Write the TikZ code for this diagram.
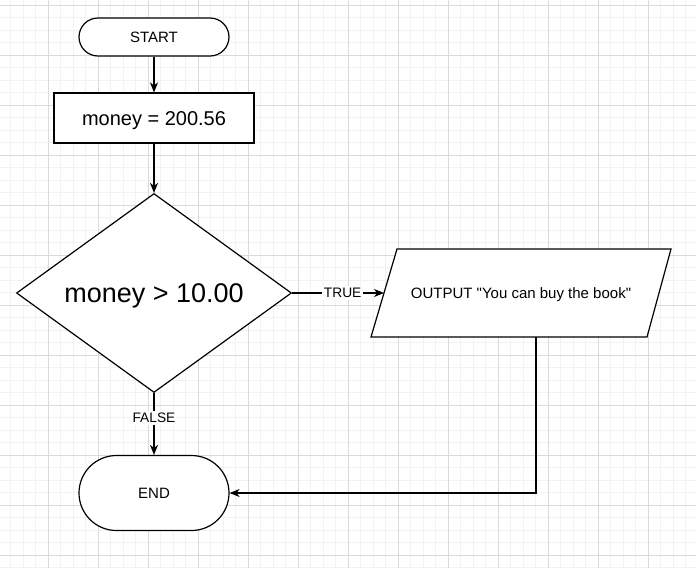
\documentclass[tikz,border=0pt]{standalone}
\usepackage{fontspec}
\setmainfont{Liberation Sans}[Ligatures=TeXOff]
\usetikzlibrary{shapes.geometric,arrows.meta}
\definecolor{gminor}{HTML}{F2F2F2}
\definecolor{gmajor}{HTML}{DADADA}
\begin{document}
\begin{tikzpicture}[x=1pt,y=-1pt,
  every node/.style={font=\fontsize{15}{18}\selectfont, text=black, text height=10.7pt, text depth=0pt},
  conn/.style={draw=black, line width=1.2pt, -{Stealth[length=10pt,width=8pt,inset=3pt]}},
  term/.style={draw=black, line width=1.2pt, fill=white, minimum width=150pt, inner sep=0pt},
  procbox/.style={draw=black, line width=1.2pt, fill=white, minimum width=200pt, minimum height=50pt, inner sep=0pt},
  decbox/.style={diamond, draw=black, line width=1.2pt, fill=white, minimum width=275pt, minimum height=199pt, inner sep=0pt, aspect=1.38},
  lbl/.style={fill=white, inner sep=2pt, font=\fontsize{13.75}{16}\selectfont, text height=9.8pt}]
\useasboundingbox (0,0) rectangle (696,568);
\fill[white] (0,0) rectangle (696,568);
% grid
\foreach \i in {0,...,55} {\draw[gminor, line width=1pt] ({10.8+12.5*\i},0) -- ({10.8+12.5*\i},568);}
\foreach \j in {0,...,45} {\draw[gminor, line width=1pt] (0,{5+12.5*\j}) -- (696,{5+12.5*\j});}
\foreach \i in {0,...,13} {\draw[gmajor, line width=0.9pt] ({48.3+50*\i},0) -- ({48.3+50*\i},568);}
\foreach \j in {0,...,11} {\draw[gmajor, line width=0.9pt] (0,{5+50*\j}) -- (696,{5+50*\j});}
% nodes
\node[term, minimum height=38pt, rounded corners=19pt] (start) at (154,37) {START};
\node[procbox, font=\fontsize{20}{24}\selectfont, text height=14.3pt] (init) at (154,118) {money = 200.56};
\node[decbox, font=\fontsize{27}{32}\selectfont, text height=19.3pt] (dec) at (154,293) {money > 10.00};
\coordinate (p1) at (371,337);
\coordinate (p2) at (647,337);
\coordinate (p3) at (671,249);
\coordinate (p4) at (397,249);
\filldraw[fill=white, draw=black, line width=1.2pt] (p1) -- (p2) -- (p3) -- (p4) -- cycle;
\node (out) at (521,293) {OUTPUT "You can buy the book"};
\coordinate (outin) at (384,293);
\coordinate (outbot) at (536,337);
\coordinate (bend) at (536,493);
\node[term, minimum height=75pt, rounded corners=37.5pt] (end) at (154,493) {END};
% connectors
\draw[conn] (start.south) -- (init.north);
\draw[conn] (init.south) -- (dec.north);
\draw[conn] (dec.east) -- node[lbl, pos=0.55] {TRUE} (outin);
\draw[conn] (dec.south) -- node[lbl, pos=0.4] {FALSE} (end.north);
\draw[conn] (outbot) -- (bend) -- (end.east);
\end{tikzpicture}
\end{document}
